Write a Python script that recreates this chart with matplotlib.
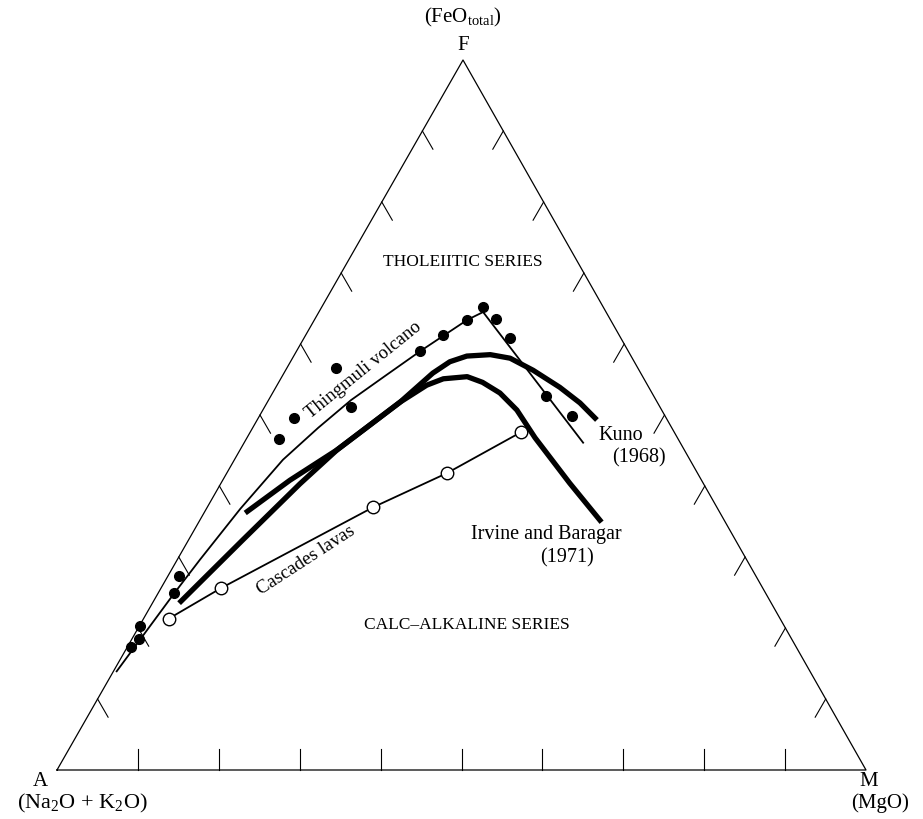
import numpy as np
import matplotlib.pyplot as plt

plt.rcParams['font.family'] = 'Liberation Serif'
plt.rcParams['mathtext.fontset'] = 'custom'
plt.rcParams['mathtext.rm'] = 'Liberation Serif'

# ternary data, percent of FeO (F) and MgO (M); alkalis A = 100 - F - M
thing_F = [65.2, 63.4, 61.3, 59.0, 63.5, 60.8, 52.7, 49.9, 56.6, 51.1, 49.6, 46.6, 27.3, 24.9, 20.3, 18.5, 17.3]
thing_M = [19.9, 18.9, 17.0, 15.3, 22.4, 25.5, 34.0, 38.6, 6.1, 10.7, 4.4, 4.0, 1.4, 2.0, 0.1, 0.9, 0.5]

thing_line_F = [13.9, 24.9, 29.6, 36.8, 43.7, 48.2, 52.1, 55.5, 59.0, 63.4, 64.5, 46.1]
thing_line_M = [0.4, 2.0, 2.8, 4.2, 6.0, 8.1, 10.2, 12.7, 15.3, 18.9, 20.3, 41.9]

casc_F = [21.3, 25.6, 37.0, 41.8, 47.6]
casc_M = [3.1, 7.4, 20.5, 27.2, 33.5]

kuno_F = [36.2, 40.8, 45.1, 48.6, 51.8, 55.9, 57.5, 58.3, 58.5, 58.0, 56.3, 53.9, 51.7, 49.3]
kuno_M = [5.1, 8.3, 12.0, 14.3, 16.4, 18.4, 19.7, 21.4, 24.2, 26.9, 30.6, 35.1, 38.7, 42.0]

irvine_F = [23.5, 32.4, 40.3, 45.1, 48.6, 51.8, 54.2, 55.1, 55.4, 54.6, 53.1, 50.7, 46.8, 40.4, 34.9]
irvine_M = [3.3, 6.7, 9.8, 12.0, 14.3, 16.4, 18.5, 20.1, 22.9, 25.2, 28.1, 31.4, 35.6, 43.1, 49.8]

ticks = np.arange(10, 100, 10)

# triangle corners in figure pixels
Ax, Ay = 57, 770
Mx = 866
Fx, Fy = 463, 60


def tern(F, M):
    F = np.asarray(F) / 100.0
    M = np.asarray(M) / 100.0
    x = Ax + M * (Mx - Ax) + F * (Fx - Ax)
    y = Ay - F * (Ay - Fy)
    return x, y


fig = plt.figure(figsize=(9.23, 8.19), dpi=100)
ax = fig.add_axes([0, 0, 1, 1])
ax.set_xlim(0, 923)
ax.set_ylim(819, 0)
ax.axis('off')

# frame
tx, ty = tern([0, 0, 100, 0], [0, 100, 0, 0])
ax.plot(tx, ty, color='black', lw=0.9)

# tick marks
L = 21
bx, by = tern(np.zeros(9), ticks)
for x, y in zip(bx, by):
    ax.plot([x, x], [y, y - L], color='black', lw=0.8)
lx, ly = tern(ticks, np.zeros(9))
for x, y in zip(lx, ly):
    ax.plot([x, x + L * 0.5], [y, y + L * 0.866], color='black', lw=0.8)
rx, ry = tern(ticks, 100 - ticks)
for x, y in zip(rx, ry):
    ax.plot([x, x - L * 0.5], [y, y + L * 0.866], color='black', lw=0.8)

# curves
x, y = tern(kuno_F, kuno_M)
ax.plot(x, y, color='black', lw=3.8, solid_capstyle='butt', solid_joinstyle='round')
x, y = tern(irvine_F, irvine_M)
ax.plot(x, y, color='black', lw=3.8, solid_capstyle='butt', solid_joinstyle='round')
x, y = tern(thing_line_F, thing_line_M)
ax.plot(x, y, color='black', lw=1.3)
x, y = tern(thing_F, thing_M)
ax.plot(x, y, 'o', color='black', ms=7)
x, y = tern(casc_F, casc_M)
ax.plot(x, y, '-o', color='black', lw=1.3, ms=9, mfc='white', mec='black', mew=1.0)

# labels
ax.text(463, 17, '(FeO$_{\\mathrm{total}}$)', ha='center', va='center', fontsize=15)
ax.text(463, 45, 'F', ha='center', va='center', fontsize=15)
ax.text(40, 782, 'A', ha='center', va='center', fontsize=15)
ax.text(82, 803, '(Na$_2$O + K$_2$O)', ha='center', va='center', fontsize=16)
ax.text(869, 782, 'M', ha='center', va='center', fontsize=15)
ax.text(880, 803, '(MgO)', ha='center', va='center', fontsize=15)

ax.text(463, 262, 'THOLEIITIC SERIES', ha='center', va='center', fontsize=12.5)
ax.text(467, 625, 'CALC\u2013ALKALINE SERIES', ha='center', va='center', fontsize=12.5)

ax.text(364, 370, 'Thingmuli volcano', ha='center', va='center', fontsize=13.5, rotation=39)
ax.text(306, 560, 'Cascades lavas', ha='center', va='center', fontsize=13.5, rotation=33)
ax.text(598, 435, 'Kuno', ha='left', va='center', fontsize=14.5)
ax.text(612, 458, '(1968)', ha='left', va='center', fontsize=14.5)
ax.text(471, 535, 'Irvine and Baragar', ha='left', va='center', fontsize=14.5)
ax.text(540, 558, '(1971)', ha='left', va='center', fontsize=14.5)

fig.savefig('out.png', dpi=100)
